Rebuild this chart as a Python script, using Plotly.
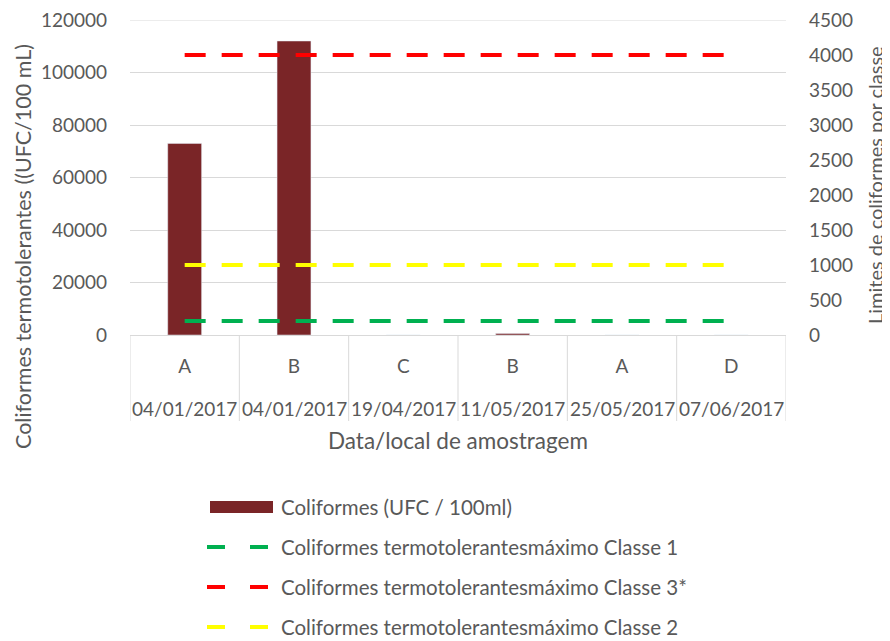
import plotly.graph_objects as go

# === Dados ===
locais = ["A", "B", "C", "B", "A", "D"]
datas = ["04/01/2017", "04/01/2017", "19/04/2017", "11/05/2017", "25/05/2017", "07/06/2017"]
coliformes = [73000, 112000, 0, 600, 0, 0]

classe1 = [200, 200, 200, 200, 200, 200]
classe3 = [4000, 4000, 4000, 4000, 4000, 4000]
classe2 = [1000, 1000, 1000, 1000, 1000, 1000]

y1_ticks = [0, 20000, 40000, 60000, 80000, 100000, 120000]
y2_ticks = [0, 500, 1000, 1500, 2000, 2500, 3000, 3500, 4000, 4500]

cinza = "#595959"
fonte = "Lato, 'Open Sans', sans-serif"
cor_barra = "#7a2527"
cor_grade = "#d9d9d9"

# a página tem margem de 8px no body: a figura fica deslocada
OFF = 8
W, H = 890 - OFF, 641 - OFF
# bordas da área de plotagem na imagem de referência
X0, X1, Y0, Y1 = 130, 786, 20, 335
ML, MR, MT, MB = X0 - OFF, W - (X1 - OFF), Y0 - OFF, H - (Y1 - OFF)
PW, PH = X1 - X0, Y1 - Y0


def px_x(x):
    return (x - X0) / PW


def px_y(y):
    return (Y1 - y) / PH


# chave única por amostra (data + local)
cats = [f"{l} {d}" for l, d in zip(locais, datas)]

fig = go.Figure()

fig.add_trace(go.Bar(
    x=cats, y=coliformes, name="Coliformes (UFC / 100ml)",
    marker_color=cor_barra, width=0.31, showlegend=False,
))

linhas = [
    ("Coliformes termotolerantesmáximo Classe 1", classe1, "#00b050"),
    ("Coliformes termotolerantesmáximo Classe 3*", classe3, "#ff0000"),
    ("Coliformes termotolerantesmáximo Classe 2", classe2, "#ffff00"),
]
for nome, valores, cor in linhas:
    fig.add_trace(go.Scatter(
        x=cats, y=valores, name=nome, yaxis="y2", mode="lines",
        line=dict(color=cor, width=4, dash="21px,16px"), showlegend=False,
    ))

# linha de grade do topo (o plotly não desenha na borda)
fig.add_shape(type="line", xref="paper", yref="y", layer="below",
              x0=0, x1=1, y0=y1_ticks[-1], y1=y1_ticks[-1],
              line=dict(color=cor_grade, width=1))

# divisórias da tabela de categorias
n = len(cats)
for k in range(n + 1):
    fig.add_shape(type="line", xref="x", yref="paper",
                  x0=k - 0.5, x1=k - 0.5, y0=0, y1=px_y(421),
                  line=dict(color=cor_grade, width=1))

# datas abaixo das letras
for c, d in zip(cats, datas):
    fig.add_annotation(x=c, xref="x", y=px_y(408), yref="paper", text=d,
                       xanchor="center", yanchor="middle",
                       showarrow=False, font=dict(size=19, color=cinza, family=fonte))

# títulos dos eixos
fig.add_annotation(x=px_x(458), xref="paper", y=px_y(440), yref="paper",
                   text="Data/local de amostragem", showarrow=False,
                   xanchor="center", yanchor="middle",
                   font=dict(size=22.5, color=cinza, family=fonte))
fig.add_annotation(x=px_x(23), xref="paper", y=px_y(247), yref="paper",
                   text="Coliformes termotolerantes ((UFC/100 mL)", textangle=-90,
                   xanchor="center", yanchor="middle",
                   showarrow=False, font=dict(size=21.5, color=cinza, family=fonte))
fig.add_annotation(x=px_x(875), xref="paper", y=px_y(185), yref="paper",
                   text="Limites de coliformes por classe", textangle=-90,
                   xanchor="center", yanchor="middle",
                   showarrow=False, font=dict(size=20, color=cinza, family=fonte))

# legenda desenhada à mão (símbolos largos como no original)
leg_y = [507, 547, 587, 627]
fig.add_shape(type="rect", xref="paper", yref="paper",
              x0=px_x(210), x1=px_x(273), y0=px_y(leg_y[0] + 6), y1=px_y(leg_y[0] - 6),
              fillcolor=cor_barra, line=dict(width=0))
fig.add_annotation(x=px_x(279), xref="paper", y=px_y(leg_y[0]), yref="paper",
                   text="Coliformes (UFC / 100ml)", showarrow=False,
                   xanchor="left", yanchor="middle",
                   font=dict(size=20.5, color=cinza, family=fonte))
for (nome, _, cor), yy in zip(linhas, leg_y[1:]):
    fig.add_shape(type="line", xref="paper", yref="paper",
                  x0=px_x(207), x1=px_x(269), y0=px_y(yy), y1=px_y(yy),
                  line=dict(color=cor, width=4, dash="18px,25px"))
    fig.add_annotation(x=px_x(279), xref="paper", y=px_y(yy), yref="paper",
                       text=nome, showarrow=False,
                       xanchor="left", yanchor="middle",
                       font=dict(size=20.5, color=cinza, family=fonte))

fig.update_layout(
    width=W, height=H,
    margin=dict(l=ML, r=MR, t=MT, b=MB, autoexpand=False),
    paper_bgcolor="white", plot_bgcolor="white",
    font=dict(family=fonte, size=19, color=cinza),
    xaxis=dict(
        type="category", tickvals=cats, ticktext=locais,
        range=[-0.5, n - 0.5], showgrid=False, ticks="",
        showline=True, linecolor=cor_grade, linewidth=1,
        tickfont=dict(size=19, color=cinza), ticklabelstandoff=14,
    ),
    yaxis=dict(
        range=[0, 120000], tickvals=y1_ticks, tickformat="d",
        gridcolor=cor_grade, gridwidth=1, zeroline=False,
        tickfont=dict(size=19, color=cinza), ticks="", ticklabelstandoff=22,
        ticklabeloverflow="allow",
    ),
    yaxis2=dict(
        overlaying="y", side="right", range=[0, 4500], tickvals=y2_ticks,
        tickformat="d", showgrid=False, zeroline=False,
        tickfont=dict(size=19, color=cinza), ticks="", ticklabelstandoff=22,
        ticklabeloverflow="allow",
    ),
    showlegend=False,
)

fig.write_html("out.html")
